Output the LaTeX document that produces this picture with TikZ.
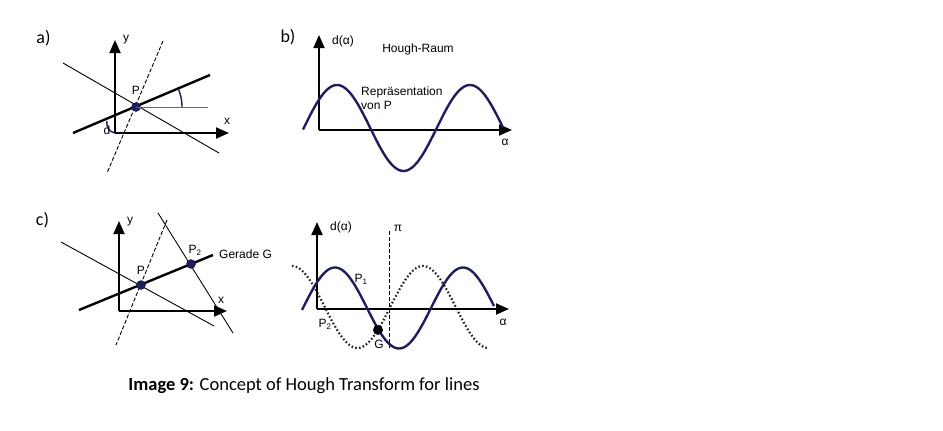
\documentclass[tikz,border=0pt]{standalone}
\usepackage{fontspec}
\setmainfont{Liberation Sans}
\newfontfamily\calib{Carlito}
\usetikzlibrary{arrows.meta}
\definecolor{navy}{RGB}{30,30,95}
\tikzset{
  axis/.style={line width=1.8pt,-{Triangle[length=13pt,width=11pt]}},
  thickline/.style={line width=2.4pt},
  thinline/.style={line width=0.9pt},
  dashline/.style={line width=0.9pt,dash pattern=on 4pt off 2pt},
  sine/.style={line width=2.4pt,navy},
  dotsine/.style={line width=2.2pt,black!85,dash pattern=on 1.6pt off 2.2pt},
  lbl/.style={font=\fontsize{12}{14}\selectfont,inner sep=0pt},
  panel/.style={font=\calib\fontsize{18}{20}\selectfont,inner sep=0pt},
  pt/.style={circle,fill=navy,draw=navy!70!black,minimum size=9pt,inner sep=0pt},
  angarc/.style={line width=1.4pt,navy}
}
\begin{document}
\begin{tikzpicture}[x=1pt,y=-1pt]
\useasboundingbox (0,0) rectangle (943,431);
\fill[white] (0,0) rectangle (943,431);

% ---------- panel a ----------
\node[panel] (la) at (43.5,38.5) {a)};
\coordinate (Oa) at (115,133);
\coordinate (Ya) at (115,40);
\coordinate (Xa) at (229,133);
\coordinate (Ma1) at (73,133);
\coordinate (Ma2) at (210,75);
\coordinate (Na1) at (63,63);
\coordinate (Na2) at (219,153);
\coordinate (Da1) at (163,41);
\coordinate (Da2) at (107,173);
\coordinate (Ha) at (208,107);
\draw[thinline] (Na1) -- (Na2);
\draw[dashline] (Da1) -- (Da2);
\draw[axis] (Oa) -- (Ya);
\draw[axis] (Oa) -- (Xa);
\draw[thickline] (Ma1) -- (Ma2);
\node[pt] (Pa) at (136,107) {};
\draw[thinline,black!60] (Pa.center) -- (Ha);
\draw[angarc] plot[domain=0:23,samples=20] ({136+46*cos(\x)},{107-46*sin(\x)});
\draw[angarc] (107,121) .. controls (106,128) and (110,132) .. (115,133);
\node[lbl] (ya) at (126,40) {y};
\node[lbl] (xa) at (227,121) {x};
\node[lbl] (Pla) at (136,90) {P};
\node[lbl] (da) at (107,130) {d};

% ---------- panel b ----------
\node[panel] (lb) at (288,37.5) {b)};
\coordinate (Ob) at (319,130);
\coordinate (Yb) at (319,35);
\coordinate (Xb) at (512,130);
\draw[axis] (Ob) -- (Yb);
\draw[axis] (Ob) -- (Xb);
\draw[sine] plot[domain=303:503,samples=120] (\x,{128-43*cos((\x-337)/133*360)});
\node[lbl] (db) at (343,41) {d(α)};
\node[lbl] (hr) at (418,49) {Hough-Raum};
\node[lbl,anchor=west,align=left] (rep) at (361,98) {Repräsentation\\von P};
\node[lbl] (ab) at (505,142) {α};

% ---------- panel c ----------
\node[panel] (lc) at (42.5,220) {c)};
\coordinate (Oc) at (119,311);
\coordinate (Yc) at (119,221);
\coordinate (Xc) at (227,311);
\coordinate (Mc1) at (79,310);
\coordinate (Mc2) at (213,255);
\coordinate (Nc1) at (61,242);
\coordinate (Nc2) at (214,326);
\coordinate (Dc1) at (167,220);
\coordinate (Dc2) at (116,345);
\coordinate (Tc1) at (158,213);
\coordinate (Tc2) at (233,333);
\draw[thinline] (Nc1) -- (Nc2);
\draw[thinline] (Tc1) -- (Tc2);
\draw[dashline] (Dc1) -- (Dc2);
\draw[axis] (Oc) -- (Yc);
\draw[axis] (Oc) -- (Xc);
\draw[thickline] (Mc1) -- (Mc2);
\node[pt] (P1c) at (141,285) {};
\node[pt] (P2c) at (191,264) {};
\node[lbl] (yc) at (130,222) {y};
\node[lbl] (xc) at (221,300) {x};
\node[lbl] (P1lc) at (141,270) {P};
\node[lbl] (P2lc) at (195,250) {P\textsubscript{2}};
\node[lbl,anchor=west] (gg) at (219,254) {Gerade G};

% ---------- panel d ----------
\coordinate (Od) at (317,309);
\coordinate (Yd) at (317,222);
\coordinate (Xd) at (509,309);
\coordinate (Pi1) at (389,231);
\coordinate (Pi2) at (389,348);
\draw[dashline] (Pi1) -- (Pi2);
\draw[dotsine] plot[domain=292:488,samples=150] (\x,{307-41*cos((\x-292)/131*360)});
\draw[axis] (Od) -- (Yd);
\draw[axis] (Od) -- (Xd);
\draw[sine] plot[domain=302:494,samples=120] (\x,{308-40.5*cos((\x-335)/128*360)});
\node[circle,fill=black,minimum size=10pt,inner sep=0pt] (G) at (378,330) {};
\node[lbl] (dd) at (341,227) {d(α)};
\node[lbl] (pi) at (398,228) {π};
\node[lbl] (ad) at (503,322) {α};
\node[lbl] (P1d) at (361,279) {P\textsubscript{1}};
\node[lbl] (P2d) at (325,324) {P\textsubscript{2}};
\node[lbl] (Gl) at (379,344) {G};

% ---------- caption ----------
\node[font=\calib\fontsize{18.5}{20}\selectfont,inner sep=0pt] (cap) at (304,386)
  {\textbf{Image 9:} Concept of Hough Transform for lines};
\end{tikzpicture}
\end{document}
